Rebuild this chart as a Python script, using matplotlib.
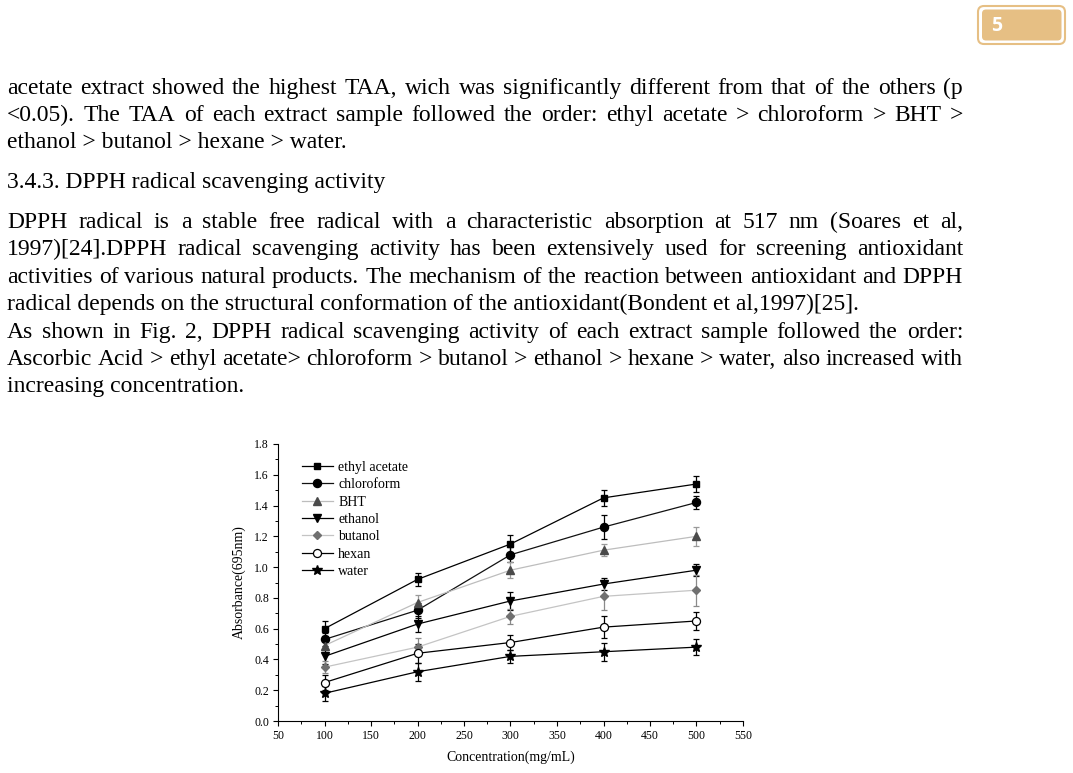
import matplotlib
matplotlib.use('Agg')
import matplotlib.pyplot as plt
from matplotlib.patches import FancyBboxPatch
from matplotlib.lines import Line2D
from matplotlib.ticker import MultipleLocator

# ---------------- data ----------------
conc = [100, 200, 300, 400, 500]

ethyl_acetate = [0.60, 0.92, 1.15, 1.45, 1.54]
ethyl_acetate_err = [0.05, 0.04, 0.06, 0.05, 0.05]
chloroform = [0.53, 0.72, 1.08, 1.26, 1.42]
chloroform_err = [0.04, 0.05, 0.05, 0.08, 0.04]
bht = [0.49, 0.77, 0.98, 1.11, 1.20]
bht_err = [0.03, 0.05, 0.05, 0.04, 0.06]
ethanol = [0.42, 0.63, 0.78, 0.89, 0.98]
ethanol_err = [0.05, 0.05, 0.06, 0.04, 0.04]
butanol = [0.35, 0.48, 0.68, 0.81, 0.85]
butanol_err = [0.04, 0.06, 0.05, 0.09, 0.10]
hexan = [0.25, 0.44, 0.51, 0.61, 0.65]
hexan_err = [0.05, 0.06, 0.05, 0.07, 0.06]
water = [0.18, 0.32, 0.42, 0.45, 0.48]
water_err = [0.05, 0.06, 0.04, 0.06, 0.05]

series_labels = ["ethyl acetate", "chloroform", "BHT", "ethanol", "butanol", "hexan", "water"]
x_ticks = [50, 100, 150, 200, 250, 300, 350, 400, 450, 500, 550]
y_ticks = [0.0, 0.2, 0.4, 0.6, 0.8, 1.0, 1.2, 1.4, 1.6, 1.8]

para1 = [
    ("acetate extract showed the highest TAA, wich was significantly different from that of the others (p", True),
    ("<0.05). The TAA of each extract sample followed the order: ethyl acetate > chloroform > BHT >", True),
    ("ethanol > butanol > hexane > water.", False),
]
heading = "3.4.3. DPPH radical scavenging activity"
para2 = [
    ("DPPH radical is a stable free radical with a characteristic absorption at 517 nm (Soares et al,", True),
    ("1997)[24].DPPH radical scavenging activity has been extensively used for screening antioxidant", True),
    ("activities of various natural products. The mechanism of the reaction between antioxidant and DPPH", True),
    ("radical depends on the structural conformation of the antioxidant(Bondent et al,1997)[25].", False),
    ("As shown in Fig. 2, DPPH radical scavenging activity of each extract sample followed the order:", True),
    ("Ascorbic Acid > ethyl acetate> chloroform > butanol > ethanol > hexane > water, also increased with", True),
    ("increasing concentration.", False),
]
page_number = "5"

# ---------------- figure ----------------
W, H = 1073, 773
fig = plt.figure(figsize=(W / 100, H / 100), dpi=100)
fig.patch.set_facecolor('white')
SERIF = ['Liberation Serif', 'DejaVu Serif']

bg = fig.add_axes([0, 0, 1, 1], zorder=0)
bg.set_xlim(0, W)
bg.set_ylim(H, 0)
bg.axis('off')

renderer = fig.canvas.get_renderer()

def width_of(s, fs):
    t = bg.text(0, 0, s, fontsize=fs, family=SERIF)
    w = t.get_window_extent(renderer).width
    t.remove()
    return w

X0, X1 = 7, 963
# calibrate the body size on a left-aligned line
FS = 17.0 * 851.0 / width_of(para2[3][0], 17.0)

def draw_line(s, y, justify):
    if not justify:
        bg.text(X0, y, s, fontsize=FS, family=SERIF, va='baseline', ha='left', color='black')
        return
    words = s.split(' ')
    ws = [width_of(w, FS) for w in words]
    gap = (X1 - X0 - sum(ws)) / (len(words) - 1)
    x = X0
    for w, wd in zip(words, ws):
        bg.text(x, y, w, fontsize=FS, family=SERIF, va='baseline', ha='left', color='black')
        x += wd + gap

ys1 = [94, 121, 148]
for (s, j), y in zip(para1, ys1):
    draw_line(s, y, j)
draw_line(heading, 188, False)
ys2 = [228, 255.4, 282.8, 310.2, 337.6, 365, 392.4]
for (s, j), y in zip(para2, ys2):
    draw_line(s, y, j)

# page badge
BADGE = '#E6BF84'
bg.add_patch(FancyBboxPatch((978, 6), 87, 38, boxstyle='round,pad=0,rounding_size=6',
                            fc='none', ec=BADGE, lw=1.5))
bg.add_patch(FancyBboxPatch((982, 9.5), 79.5, 31, boxstyle='round,pad=0,rounding_size=4',
                            fc=BADGE, ec='none'))
bg.text(991, 26, page_number, fontsize=14, fontweight='bold', family=['Open Sans', 'DejaVu Sans'],
        color='white', ha='left', va='center')

# ---------------- chart ----------------
ax = fig.add_axes([278 / W, 52 / H, 465 / W, 277 / H], zorder=2)
ax.patch.set_alpha(0)

styles = [
    (ethyl_acetate, ethyl_acetate_err, dict(color='black', marker='s', ms=5.0, mfc='black', mec='black'), 'black'),
    (chloroform, chloroform_err, dict(color='#111111', marker='o', ms=5.8, mfc='black', mec='black'), 'black'),
    (bht, bht_err, dict(color='#bdbdbd', marker='^', ms=5.2, mfc='#4a4a4a', mec='#4a4a4a'), '#9a9a9a'),
    (ethanol, ethanol_err, dict(color='black', marker='v', ms=5.8, mfc='black', mec='black'), 'black'),
    (butanol, butanol_err, dict(color='#c4c4c4', marker='D', ms=4.0, mfc='#707070', mec='#707070'), '#8a8a8a'),
    (hexan, hexan_err, dict(color='black', marker='o', ms=5.8, mfc='white', mec='black', mew=0.9), 'black'),
    (water, water_err, dict(color='black', marker='*', ms=7.0, mfc='black', mec='black'), 'black'),
]

handles = []
for (vals, errs, st, ecol), lab in zip(styles, series_labels):
    ax.errorbar(conc, vals, yerr=errs, lw=0.9, ecolor=ecol, elinewidth=0.9, capsize=2.3,
                capthick=0.9, zorder=3, **st)
    handles.append(Line2D([], [], lw=0.9, **st))

ax.set_xlim(50, 550)
ax.set_ylim(0, 1.8)
ax.set_xticks(x_ticks)
ax.set_yticks(y_ticks)
ax.set_xticklabels([str(v) for v in x_ticks])
ax.set_yticklabels([f"{v:.1f}" for v in y_ticks])
ax.xaxis.set_minor_locator(MultipleLocator(25))
ax.yaxis.set_minor_locator(MultipleLocator(0.1))
for s in ['top', 'right']:
    ax.spines[s].set_visible(False)
for s in ['left', 'bottom']:
    ax.spines[s].set_linewidth(0.8)
ax.tick_params(which='major', direction='out', length=3.5, width=0.8, labelsize=8.5, pad=3)
ax.tick_params(which='minor', direction='out', length=2, width=0.7)
for lbl in ax.get_xticklabels() + ax.get_yticklabels():
    lbl.set_family(SERIF)

ax.set_xlabel("Concentration(mg/mL)", fontsize=10, family=SERIF, labelpad=6)
ax.set_ylabel("Absorbance(695nm)", fontsize=10, family=SERIF, labelpad=6)

leg = ax.legend(handles, series_labels, loc='upper left', bbox_to_anchor=(302, 461),
                bbox_transform=bg.transData, frameon=False, prop={'family': SERIF, 'size': 10},
                handlelength=2.2, handletextpad=0.4, labelspacing=0.31, borderpad=0, borderaxespad=0)

fig.savefig('out.png', dpi=100, facecolor='white')
